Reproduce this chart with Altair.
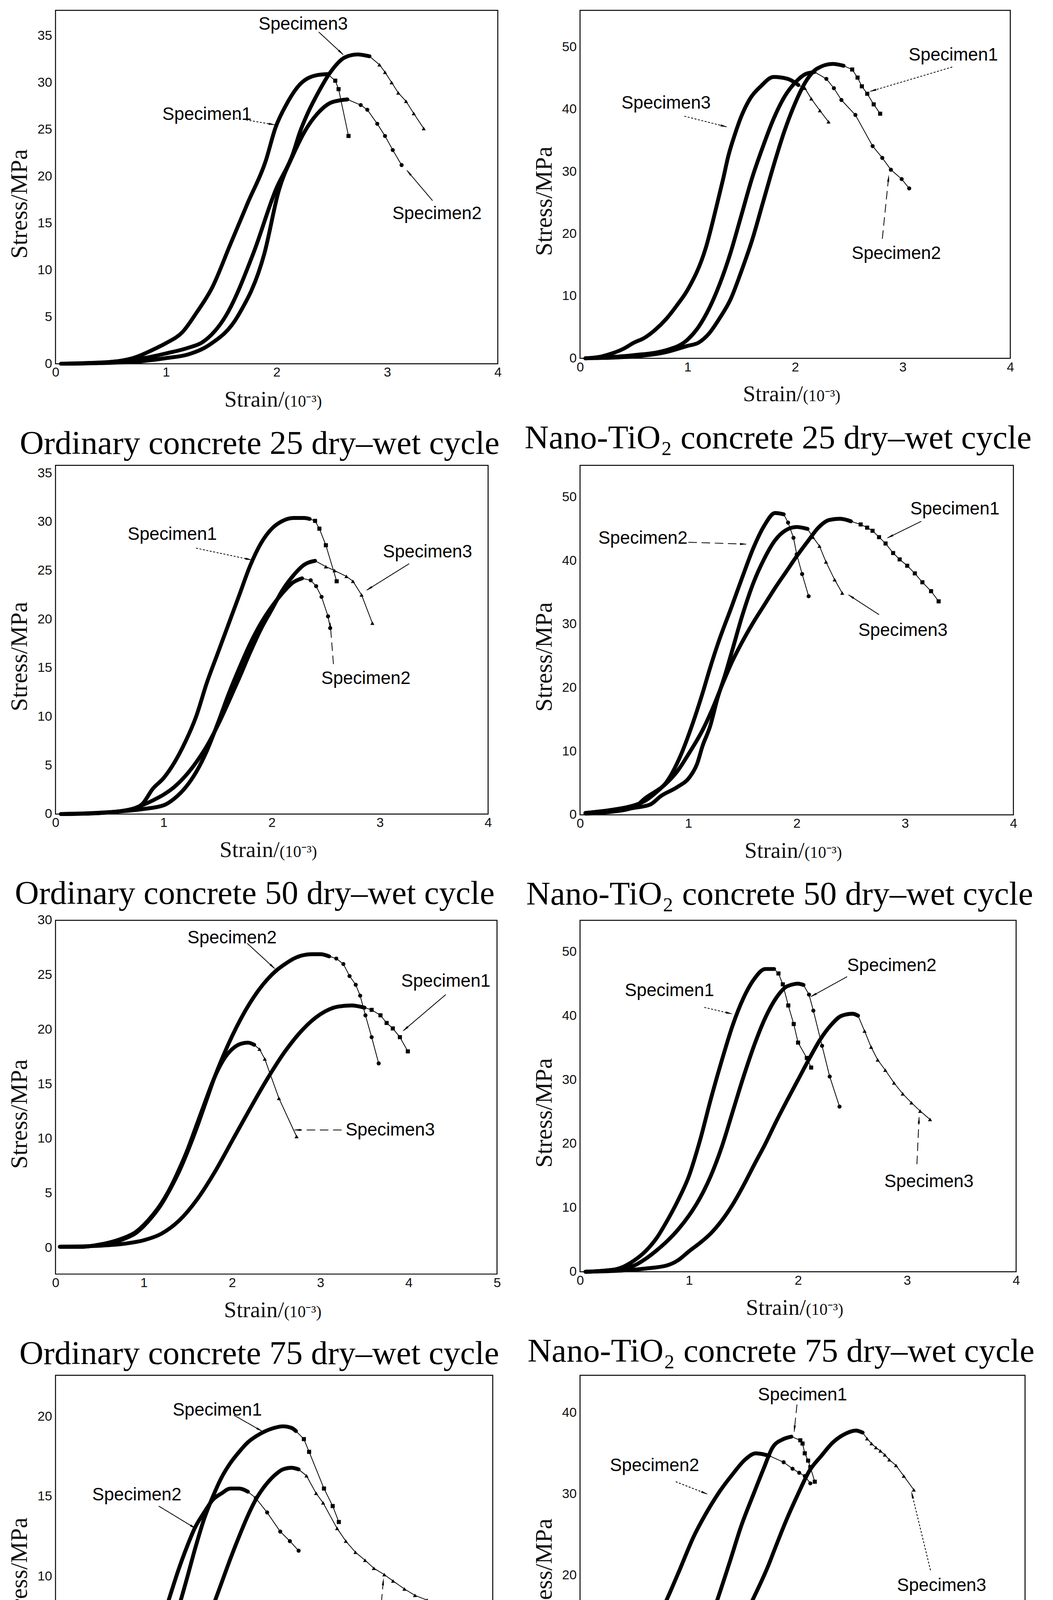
import math
import altair as alt
import pandas as pd

SERIF = "Liberation Serif"
SANS = "Liberation Sans"

# ------------------------------------------------------------------
# Data: (strain 10^-3, stress MPa)
# "RISE" = densely sampled ascending branch, "FALL" = sparse markers after peak
# ------------------------------------------------------------------
# P1  Ordinary concrete, 25 cycles
P1_S1_RISE = [(0.05,0),(0.4,0.1),(0.7,0.6),(0.9,1.6),(1.0,2.2),(1.15,3.4),(1.27,5.35),(1.42,8.2),(1.58,12.7),(1.74,17.2),(1.90,21.6),(1.99,25.2),(2.09,27.7),(2.21,29.8),(2.37,30.8),(2.46,30.9)]
P1_S1_FALL = [(2.53,30.2),(2.56,29.3),(2.65,24.3)]
P1_S2_RISE = [(0.05,0),(0.5,0.1),(0.8,0.3),(1.0,0.6),(1.2,1.0),(1.39,2.0),(1.65,5.1),(1.89,11.8),(2.02,18.5),(2.15,22.3),(2.25,24.7),(2.37,26.7),(2.50,27.9),(2.64,28.2)]
P1_S2_FALL = [(2.76,27.6),(2.82,27.1),(2.91,25.6),(2.98,24.3),(3.05,22.8),(3.13,21.2)]
P1_S3_RISE = [(0.05,0),(0.5,0.2),(0.8,0.6),(1.0,1.1),(1.2,1.7),(1.33,2.3),(1.54,5.1),(1.79,11.8),(1.99,18.5),(2.15,22.5),(2.21,24.7),(2.28,26.7),(2.37,28.8),(2.48,31.0),(2.62,32.7),(2.73,33.0),(2.84,32.8)]
P1_S3_FALL = [(2.93,31.9),(2.98,31.1),(3.04,30.0),(3.10,28.9),(3.17,28.0),(3.24,26.7),(3.33,25.1)]

# P2  Nano-TiO2 concrete, 25 cycles
P2_S1_RISE = [(0.05,0),(0.5,0.3),(0.8,1),(1.0,2),(1.1,2.5),(1.2,4),(1.3,6.5),(1.4,9.5),(1.5,14),(1.6,19),(1.7,25),(1.8,31),(1.9,36.5),(2.0,41),(2.1,44.5),(2.2,46.5),(2.35,47.3),(2.45,47)]
P2_S1_FALL = [(2.53,46.4),(2.58,45.1),(2.62,43.7),(2.67,42.5),(2.73,40.8),(2.79,39.3)]
P2_S2_RISE = [(0.05,0),(0.5,0.5),(0.8,1.3),(1.0,3),(1.1,5),(1.2,8),(1.3,12),(1.4,17),(1.5,23),(1.6,29),(1.7,34),(1.8,38.5),(1.9,42),(2.0,44.3),(2.1,45.7),(2.18,46)]
P2_S2_FALL = [(2.29,44.9),(2.36,43.4),(2.43,41.5),(2.56,39.1),(2.72,34.1),(2.81,32.2),(2.89,30.3),(2.99,28.8),(3.06,27.3)]
P2_S3_RISE = [(0.05,0),(0.2,0.3),(0.3,0.8),(0.4,1.5),(0.5,2.5),(0.6,3.3),(0.7,4.6),(0.8,6.3),(0.9,8.5),(1.0,11),(1.17,17.8),(1.27,24.5),(1.33,28.8),(1.38,32.6),(1.44,36),(1.5,38.9),(1.58,41.7),(1.68,43.7),(1.8,45.2),(1.93,44.9),(2.03,43.9)]
P2_S3_FALL = [(2.09,43.4),(2.15,41.7),(2.23,39.8),(2.31,38)]

# P3  Ordinary concrete, 50 cycles
P3_S1_RISE = [(0.05,0),(0.4,0.1),(0.7,0.5),(0.8,1),(0.9,2.6),(1.0,3.7),(1.1,5.3),(1.2,7.4),(1.3,10),(1.4,13.5),(1.5,16.5),(1.6,19.5),(1.7,22.5),(1.8,25.5),(1.9,27.8),(2.0,29.3),(2.1,30.1),(2.2,30.4),(2.3,30.4),(2.35,30.3)]
P3_S1_FALL = [(2.40,30.1),(2.44,29.3),(2.50,27.6),(2.60,23.9)]
P3_S2_RISE = [(0.05,0),(0.5,0.2),(0.8,0.5),(1.0,0.9),(1.1,1.6),(1.2,2.7),(1.3,4.3),(1.4,6.5),(1.5,9.3),(1.6,12.3),(1.7,15),(1.8,17.5),(1.9,19.6),(2.0,21.3),(2.1,22.7),(2.2,23.8),(2.28,24.2)]
P3_S2_FALL = [(2.36,24),(2.41,23.4),(2.46,22.3),(2.52,20.3),(2.54,19.1)]
P3_S3_RISE = [(0.05,0),(0.4,0.1),(0.7,0.5),(0.8,0.9),(0.9,1.4),(1.0,2),(1.1,2.8),(1.2,3.9),(1.3,5.3),(1.4,7),(1.5,9.1),(1.6,11.5),(1.7,14),(1.8,16.6),(1.9,19),(2.0,21),(2.1,23),(2.2,24.5),(2.3,25.6),(2.4,26)]
P3_S3_FALL = [(2.50,25.4),(2.58,25),(2.69,24.4),(2.75,23.9),(2.83,22.5),(2.93,19.6)]

# P4  Nano-TiO2 concrete, 50 cycles
P4_S1_RISE = [(0.05,0.2),(0.3,0.5),(0.5,1.2),(0.60,2.6),(0.78,4.7),(0.90,6.9),(1.01,9.8),(1.13,13.3),(1.22,16.6),(1.32,20.8),(1.39,23.6),(1.49,27.0),(1.6,30.3),(1.7,33.0),(1.8,35.7),(1.9,38.2),(2.0,40.7),(2.1,43),(2.2,45.2),(2.3,46.4),(2.4,46.6),(2.5,46.2)]
P4_S1_FALL = [(2.59,45.7),(2.65,45.2),(2.70,44.7),(2.76,43.7),(2.82,42.7),(2.89,41.2),(2.95,40.2),(3.02,39.2),(3.09,38),(3.16,36.6),(3.24,35.2),(3.31,33.6)]
P4_S2_RISE = [(0.05,0.3),(0.3,0.8),(0.5,1.5),(0.6,2.2),(0.7,3.5),(0.8,5.2),(0.93,9.4),(1.03,13.9),(1.13,19.1),(1.20,23.1),(1.27,26.8),(1.4,32.8),(1.5,37.5),(1.6,42),(1.7,45.5),(1.8,47.5),(1.88,47.3)]
P4_S2_FALL = [(1.92,46),(1.97,43.6),(2.0,41),(2.05,37.9),(2.11,34.4)]
P4_S3_RISE = [(0.05,0.3),(0.3,0.7),(0.5,1.1),(0.645,1.6),(0.75,3.0),(0.90,4.4),(1.01,5.9),(1.08,8.0),(1.13,10.8),(1.20,13.9),(1.27,18.4),(1.34,22.1),(1.40,25.6),(1.5,31.5),(1.6,36.5),(1.7,40.3),(1.8,43.2),(1.9,44.8),(2.0,45.3),(2.1,45)]
P4_S3_FALL = [(2.15,43.7),(2.21,42.3),(2.27,39.8),(2.35,37),(2.42,34.9)]

# P5  Ordinary concrete, 75 cycles
P5_S1_RISE = [(0.05,0.1),(0.5,0.2),(0.8,0.4),(1.0,0.7),(1.2,1.3),(1.4,2.5),(1.6,4.4),(1.8,6.9),(2.0,9.8),(2.2,12.7),(2.4,15.5),(2.6,18),(2.8,20),(3.0,21.4),(3.2,22.1),(3.35,22.2),(3.5,22)]
P5_S1_FALL = [(3.58,21.8),(3.68,21.3),(3.75,20.6),(3.82,20.1),(3.90,19.3),(3.99,18.0)]
P5_S2_RISE = [(0.05,0.1),(0.3,0.1),(0.5,0.3),(0.7,0.6),(0.8,0.9),(0.9,1.3),(1.0,2),(1.1,2.9),(1.2,4),(1.3,5.4),(1.4,7),(1.5,8.9),(1.6,11),(1.7,13.3),(1.8,15.6),(1.9,17.6),(2.0,19.4),(2.1,21),(2.2,22.4),(2.3,23.6),(2.4,24.6),(2.5,25.4),(2.6,26),(2.7,26.5),(2.8,26.8),(2.9,26.9),(3.0,26.9),(3.1,26.7)]
P5_S2_FALL = [(3.18,26.5),(3.26,26),(3.33,24.9),(3.40,24.1),(3.45,23.1),(3.51,21.3),(3.58,19.3),(3.66,16.9)]
P5_S3_RISE = [(0.05,0.1),(0.3,0.1),(0.5,0.3),(0.7,0.7),(0.8,1),(0.9,1.4),(1.0,2.1),(1.1,3),(1.2,4.1),(1.3,5.5),(1.4,7.2),(1.5,9.1),(1.6,11.3),(1.7,13.5),(1.8,15.6),(1.9,17.2),(2.0,18.2),(2.1,18.7),(2.18,18.8),(2.25,18.6)]
P5_S3_FALL = [(2.31,18.2),(2.37,17.3),(2.53,13.7),(2.73,10.2)]

# P6  Nano-TiO2 concrete, 75 cycles
P6_S1_RISE = [(0.05,0),(0.3,0.3),(0.4,0.8),(0.5,1.8),(0.6,3.2),(0.7,5.2),(0.8,8),(0.9,11.2),(1.0,15),(1.1,20.5),(1.2,27),(1.3,33),(1.4,38.5),(1.5,42.8),(1.6,45.8),(1.7,47.3),(1.78,47.3)]
P6_S1_FALL = [(1.82,46.6),(1.86,44.9),(1.91,41.6),(1.96,38.7),(2.0,35.8),(2.08,33.4),(2.12,31.9)]
P6_S2_RISE = [(0.05,0),(0.3,0.3),(0.5,1),(0.6,2),(0.7,3.3),(0.8,4.8),(0.9,6.6),(1.0,8.8),(1.1,11.5),(1.2,15),(1.3,19.5),(1.4,25),(1.5,30.5),(1.6,35.5),(1.7,39.7),(1.8,42.8),(1.9,44.6),(2.0,45),(2.05,44.8)]
P6_S2_FALL = [(2.10,43.3),(2.14,40.8),(2.22,35.3),(2.29,30.5),(2.38,25.8)]
P6_S3_RISE = [(0.05,0),(0.4,0.2),(0.6,0.5),(0.8,1),(0.9,1.8),(1.0,3.2),(1.1,4.5),(1.2,6),(1.3,8),(1.4,10.5),(1.5,13.5),(1.6,16.8),(1.7,20),(1.8,23.5),(1.9,26.8),(2.0,30),(2.1,33.2),(2.2,36.2),(2.3,38.5),(2.4,40),(2.5,40.3),(2.55,40)]
P6_S3_FALL = [(2.61,37.6),(2.67,35.1),(2.73,33.1),(2.80,31.5),(2.88,29.5),(2.96,27.8),(3.04,26.4),(3.12,25.1),(3.21,23.8)]

# P7  Ordinary concrete, 100 cycles
P7_S1_RISE = [(0.1,0),(0.3,0.1),(0.5,0.3),(0.7,0.6),(0.8,1),(0.9,1.8),(1.0,2.7),(1.1,3.7),(1.2,4.9),(1.3,6.3),(1.4,7.9),(1.5,9.8),(1.6,11.8),(1.7,13.6),(1.8,15),(1.9,16.2),(2.0,17.1),(2.1,17.8),(2.2,18.4),(2.3,18.8),(2.4,19.1),(2.5,19.3),(2.6,19.4),(2.7,19.3),(2.75,19.1)]
P7_S1_FALL = [(2.84,18.6),(2.90,17.8),(3.07,15.5),(3.17,14.4),(3.24,13.4)]
P7_S2_RISE = [(0.0,0.7),(0.2,0.9),(0.4,0.85),(0.6,0.95),(0.7,1.2),(0.8,1.9),(0.9,2.8),(1.0,3.9),(1.1,5.3),(1.2,6.9),(1.3,8.6),(1.4,10.3),(1.5,11.8),(1.6,13.1),(1.7,14),(1.8,14.8),(1.9,15.2),(2.0,15.5),(2.1,15.5),(2.2,15.3)]
P7_S2_FALL = [(2.29,14.9),(2.42,14),(2.57,12.8),(2.68,12.2),(2.78,11.6)]
P7_S3_RISE = [(0.1,0),(0.5,0.1),(0.7,0.4),(0.8,0.7),(1.0,1.3),(1.2,2.1),(1.3,2.6),(1.4,3.3),(1.5,4.2),(1.6,5.3),(1.7,6.6),(1.8,8.1),(1.9,9.6),(2.0,11.1),(2.1,12.5),(2.2,13.8),(2.3,14.9),(2.4,15.7),(2.5,16.3),(2.6,16.7),(2.7,16.8),(2.78,16.7)]
P7_S3_FALL = [(2.87,16.3),(2.98,15.2),(3.06,14.6),(3.22,13),(3.32,12.2),(3.43,11.5),(3.54,11),(3.64,10.5),(3.76,10.1),(3.86,9.7),(3.99,9.2),(4.11,8.8),(4.25,8.5),(4.38,8.1),(4.51,7.8),(4.64,7.5)]

# P8  Nano-TiO2 concrete, 100 cycles
P8_S1_RISE = [(0.08,0),(0.3,0.1),(0.5,0.4),(0.7,0.9),(0.77,1.3),(0.90,4.2),(1.03,8.5),(1.13,12.9),(1.24,17.2),(1.35,21.8),(1.45,26.1),(1.56,30.0),(1.65,33.1),(1.73,35.7),(1.82,36.7),(1.90,37.05)]
P8_S1_FALL = [(1.98,36.6),(2.00,36.2),(2.02,35.0),(2.05,34.1),(2.07,33.3),(2.11,31.5)]
P8_S2_RISE = [(0.08,2.3),(0.17,2.9),(0.305,4.7),(0.46,7.1),(0.57,10.5),(0.67,13.8),(0.78,17.0),(0.90,20.8),(1.02,24.7),(1.12,27.3),(1.24,30.0),(1.37,32.4),(1.49,34.3),(1.58,35.0),(1.70,34.7)]
P8_S2_FALL = [(1.83,33.9),(1.91,33.1),(1.97,32.6),(2.02,32.2),(2.07,31.3)]
P8_S3_RISE = [(0.08,0),(0.3,0.1),(0.5,0.4),(0.7,0.9),(0.79,1.6),(0.90,2.8),(1.03,4.5),(1.16,6.6),(1.29,9.8),(1.42,13.4),(1.56,17.2),(1.69,21.1),(1.75,23.2),(1.84,26.3),(1.96,30.0),(2.06,32.8),(2.17,34.7),(2.27,36.3),(2.37,37.3),(2.48,37.8),(2.54,37.55)]
P8_S3_FALL = [(2.58,36.8),(2.62,36.2),(2.66,35.7),(2.70,35.3),(2.74,34.8),(2.78,34.2),(2.84,33.5),(2.91,32.2),(3.0,30.5)]

# Annotations: (label, text x, text y, arrow start x, y, arrow tip x, y, line style)
P1_NOTES = [("Specimen3",2.24,36.2,2.38,35.4,2.60,33.0,"solid"),("Specimen1",1.37,26.6,1.63,26.2,1.98,25.5,"dotted"),("Specimen2",3.45,16.0,3.41,17.4,3.18,20.6,"solid")]
P2_NOTES = [("Specimen1",3.47,48.7,3.46,46.8,2.70,42.9,"dotted"),("Specimen3",0.80,41.0,0.97,38.9,1.36,37.2,"dotted"),("Specimen2",2.94,16.8,2.81,19.2,2.87,29.3,"dashed")]
P3_NOTES = [("Specimen1",1.08,28.7,1.30,27.3,1.81,26.1,"dotted"),("Specimen3",3.44,26.9,3.27,25.7,2.88,23.0,"solid"),("Specimen2",2.87,13.9,2.57,15.4,2.54,19.6,"dashed")]
P4_NOTES = [("Specimen2",0.58,43.5,1.0,42.9,1.53,42.6,"dashed"),("Specimen1",3.46,48.1,3.15,46.2,2.84,43.6,"solid"),("Specimen3",2.98,29.0,2.76,31.5,2.48,34.6,"solid")]
P5_NOTES = [("Specimen2",2.0,28.4,2.17,27.9,2.48,25.6,"solid"),("Specimen1",4.42,24.4,4.42,23.2,3.94,19.9,"solid"),("Specimen3",3.79,10.8,3.24,10.8,2.71,10.8,"dashed")]
P6_NOTES = [("Specimen1",0.82,43.9,1.14,41.3,1.39,40.3,"dotted"),("Specimen2",2.86,47.8,2.45,46.1,2.12,43.0,"solid"),("Specimen3",3.20,14.1,3.09,16.8,3.11,24.1,"dashed")]
P7_NOTES = [("Specimen1",1.85,20.4,2.04,20.1,2.36,19.1,"solid"),("Specimen2",0.93,15.1,1.18,14.4,1.60,13.0,"solid"),("Specimen3",3.76,5.7,3.70,6.7,3.75,9.8,"dashed")]
P8_NOTES = [("Specimen1",2.00,42.2,1.95,41.0,1.925,37.7,"dashed"),("Specimen2",0.67,33.5,0.86,31.5,1.14,30.0,"dotted"),("Specimen3",3.25,18.7,3.15,20.6,2.98,30.2,"dotted")]

CAPTIONS = ["Ordinary concrete 25 dry\u2013wet cycle", "Nano-TiO\u2082 concrete 25 dry\u2013wet cycle",
            "Ordinary concrete 50 dry\u2013wet cycle", "Nano-TiO\u2082 concrete 50 dry\u2013wet cycle",
            "Ordinary concrete 75 dry\u2013wet cycle", "Nano-TiO\u2082 concrete 75 dry\u2013wet cycle",
            "Ordinary concrete 100 dry\u2013wet cycle", "Nano-TiO\u2082 concrete 100 dry\u2013wet cycle"]
X_TITLE = ("Strain/", "(10\u207b\u00b3)")
Y_TITLE = "Stress/MPa"

PANELS = [
    dict(xdom=[0, 4], ydom=[0, 37.7], ystep=5, W=1140, H=911,
         series={"1": (P1_S1_RISE, P1_S1_FALL), "2": (P1_S2_RISE, P1_S2_FALL), "3": (P1_S3_RISE, P1_S3_FALL)}, notes=P1_NOTES),
    dict(xdom=[0, 4], ydom=[0, 55.9], ystep=10, W=1109, H=897,
         series={"1": (P2_S1_RISE, P2_S1_FALL), "2": (P2_S2_RISE, P2_S2_FALL), "3": (P2_S3_RISE, P2_S3_FALL)}, notes=P2_NOTES),
    dict(xdom=[0, 4], ydom=[0, 35.8], ystep=5, W=1115, H=899,
         series={"1": (P3_S1_RISE, P3_S1_FALL), "2": (P3_S2_RISE, P3_S2_FALL), "3": (P3_S3_RISE, P3_S3_FALL)}, notes=P3_NOTES),
    dict(xdom=[0, 4], ydom=[0, 55], ystep=10, W=1117, H=901,
         series={"1": (P4_S1_RISE, P4_S1_FALL), "2": (P4_S2_RISE, P4_S2_FALL), "3": (P4_S3_RISE, P4_S3_FALL)}, notes=P4_NOTES),
    dict(xdom=[0, 5], ydom=[-2.4, 30], ystep=5, W=1138, H=912,
         series={"1": (P5_S1_RISE, P5_S1_FALL), "2": (P5_S2_RISE, P5_S2_FALL), "3": (P5_S3_RISE, P5_S3_FALL)}, notes=P5_NOTES),
    dict(xdom=[0, 4], ydom=[0, 54.9], ystep=10, W=1124, H=906,
         series={"1": (P6_S1_RISE, P6_S1_FALL), "2": (P6_S2_RISE, P6_S2_FALL), "3": (P6_S3_RISE, P6_S3_FALL)}, notes=P6_NOTES),
    dict(xdom=[0, 5], ydom=[0, 22.6], ystep=5, W=1127, H=929,
         series={"1": (P7_S1_RISE, P7_S1_FALL), "2": (P7_S2_RISE, P7_S2_FALL), "3": (P7_S3_RISE, P7_S3_FALL)}, notes=P7_NOTES),
    dict(xdom=[0, 4], ydom=[0, 44.6], ystep=10, W=1147, H=934,
         series={"1": (P8_S1_RISE, P8_S1_FALL), "2": (P8_S2_RISE, P8_S2_FALL), "3": (P8_S3_RISE, P8_S3_FALL)}, notes=P8_NOTES),
]


def make_panel(p, caption):
    W, H = p["W"], p["H"]
    xd, yd = p["xdom"], p["ydom"]
    sx = W / (xd[1] - xd[0])
    sy = H / (yd[1] - yd[0])

    rise_rows, fl_rows, fp_rows = [], [], []
    for spec, (rise, fall) in p["series"].items():
        for i, (x, y) in enumerate(rise):
            rise_rows.append(dict(spec=spec, i=i, x=x, y=y))
        for i, (x, y) in enumerate([rise[-1]] + fall):
            fl_rows.append(dict(spec=spec, i=i, x=x, y=y))
        for (x, y) in fall:
            fp_rows.append(dict(spec=spec, x=x, y=y))

    note_rows = []
    for (lab, tx, ty, x1, y1, x2, y2, style) in p["notes"]:
        dx = (x2 - x1) * sx
        dy = -(y2 - y1) * sy
        L = math.hypot(dx, dy) or 1.0
        ang = math.degrees(math.atan2(dx, -dy)) % 360
        back = 9.0
        hx = x2 - (dx / L * back) / sx
        hy = y2 + (dy / L * back) / sy
        note_rows.append(dict(label=lab, tx=tx, ty=ty, x1=x1, y1=y1, x2=x2, y2=y2,
                              style=style, hx=hx, hy=hy, ang=ang))

    xticks = list(range(int(xd[0]), int(xd[1]) + 1))
    yticks = list(range(0, int(yd[1] + 1e-9) + 1, p["ystep"]))

    xs = alt.Scale(domain=xd, nice=False, zero=False)
    ys = alt.Scale(domain=yd, nice=False, zero=False)
    xax = alt.Axis(values=xticks, title="", ticks=False, domain=False, grid=False,
                   labelFont=SANS, labelFontSize=34, labelColor="#111111", labelPadding=6,
                   labelFlush=False, labelOverlap=False)
    yax = alt.Axis(values=yticks, title=Y_TITLE, ticks=False, domain=False, grid=False,
                   labelFont=SANS, labelFontSize=34, labelColor="#111111", labelPadding=9,
                   labelFlush=False, labelOverlap=False,
                   titleFont=SERIF, titleFontSize=62, titleFontWeight="normal", titleColor="#111111",
                   titleX=-93, titleY=H / 2 + 43, titleBaseline="middle", titleAlign="center", titleAngle=270)

    def X(f):
        return alt.X(f"{f}:Q", scale=xs, axis=xax)

    def Y(f):
        return alt.Y(f"{f}:Q", scale=ys, axis=yax)

    rise_l = alt.Chart(pd.DataFrame(rise_rows)).mark_line(
        color="black", strokeWidth=10, interpolate="monotone", strokeCap="round", strokeJoin="round"
    ).encode(x=X("x"), y=Y("y"), detail="spec:N", order="i:Q")

    fall_l = alt.Chart(pd.DataFrame(fl_rows)).mark_line(color="black", strokeWidth=2).encode(
        x=X("x"), y=Y("y"), detail="spec:N", order="i:Q")

    fall_p = alt.Chart(pd.DataFrame(fp_rows)).mark_point(filled=True, color="black", opacity=1, size=110).encode(
        x=X("x"), y=Y("y"),
        shape=alt.Shape("spec:N", scale=alt.Scale(domain=["1", "2", "3"], range=["square", "circle", "triangle-up"]), legend=None))

    nd = pd.DataFrame(note_rows)
    rules = alt.Chart(nd).mark_rule(color="black", strokeWidth=2).encode(
        x=X("x1"), y=Y("y1"), x2="x2:Q", y2="y2:Q",
        strokeDash=alt.StrokeDash("style:N", scale=alt.Scale(domain=["solid", "dotted", "dashed"],
                                                             range=[[1, 0], [5, 4], [22, 12]]), legend=None))
    heads = alt.Chart(nd).mark_point(shape="wedge", filled=True, color="black", opacity=1, size=450).encode(
        x=X("hx"), y=Y("hy"), angle=alt.Angle("ang:Q", scale=None))
    labels = alt.Chart(nd).mark_text(font=SANS, fontSize=46, color="black", align="center", baseline="middle").encode(
        x=X("tx"), y=Y("ty"), text="label:N")

    xt1 = alt.Chart(pd.DataFrame({"t": [X_TITLE[0]]})).mark_text(
        font=SERIF, fontSize=58, color="#111111", align="right", baseline="alphabetic"
    ).encode(x=alt.value(W / 2 + 20), y=alt.value(H + 111), text="t:N")
    xt2 = alt.Chart(pd.DataFrame({"t": [X_TITLE[1]]})).mark_text(
        font=SERIF, fontSize=42, color="#111111", align="left", baseline="alphabetic"
    ).encode(x=alt.value(W / 2 + 20), y=alt.value(H + 111), text="t:N")

    cap = alt.Chart(pd.DataFrame({"c": [caption]})).mark_text(
        font=SERIF, fontSize=86, color="black", align="center", baseline="middle"
    ).encode(x=alt.value(W / 2 - 44), y=alt.value(H + 206), text="c:N")

    return alt.layer(rise_l, fall_l, fall_p, rules, heads, labels, xt1, xt2, cap).properties(width=W, height=H)


charts = [make_panel(p, c) for p, c in zip(PANELS, CAPTIONS)]

chart = alt.concat(*charts, columns=2, spacing={"row": 239, "column": 205}, bounds="flush", align="all") \
    .configure_view(stroke="black", strokeWidth=2.5) \
    .properties(padding={"left": 9, "top": 0, "right": 5, "bottom": 5}, background="white")

chart.save("out.html", embed_options={"renderer": "svg", "actions": False})
